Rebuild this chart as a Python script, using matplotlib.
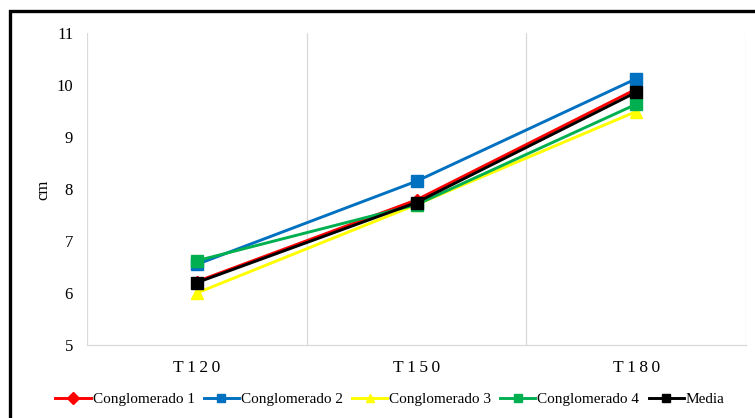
import matplotlib
matplotlib.use("Agg")
import matplotlib.pyplot as plt
from matplotlib.patches import Rectangle

# Data
categories = ["T120", "T150", "T180"]
conglomerado_1 = [6.22, 7.79, 9.92]
conglomerado_2 = [6.55, 8.15, 10.12]
conglomerado_3 = [6.00, 7.70, 9.49]
conglomerado_4 = [6.62, 7.70, 9.63]
media = [6.20, 7.74, 9.86]
series_names = ["Conglomerado 1", "Conglomerado 2", "Conglomerado 3",
                "Conglomerado 4", "Media"]
y_ticks = [5, 6, 7, 8, 9, 10, 11]

plt.rcParams["font.family"] = ["Liberation Serif", "DejaVu Serif"]

W, H = 755, 418
fig = plt.figure(figsize=(W / 100, H / 100), dpi=100)
ax = fig.add_axes([87 / W, 1 - 345 / H, (746 - 87) / W, (345 - 33) / H])

styles = [
    dict(color="#FF0000", marker="D", ms=6),
    dict(color="#0070C0", marker="s", ms=8.5),
    dict(color="#FFFF00", marker="^", ms=9),
    dict(color="#00B050", marker="s", ms=8.5),
    dict(color="#000000", marker="s", ms=8.5),
]
series = [conglomerado_1, conglomerado_2, conglomerado_3, conglomerado_4, media]
x = list(range(len(categories)))
for name, vals, st in zip(series_names, series, styles):
    ax.plot(x, vals, color=st["color"], lw=2.1, marker=st["marker"],
            ms=st["ms"], mfc=st["color"], mec=st["color"], label=name)

ax.set_xlim(-0.5, len(categories) - 0.5)
ax.set_ylim(5, 11)
ax.set_yticks(y_ticks)
ax.set_xticks(x)
# letter-spaced category labels
ax.set_xticklabels(["\u2009".join(c) for c in categories])

# vertical gridlines between categories
for b in [i + 0.5 for i in range(-1, len(categories))]:
    ax.axvline(b, color="#D9D9D9", lw=0.9, zorder=0)

for side in ["top", "right", "left"]:
    ax.spines[side].set_visible(False)
ax.spines["bottom"].set_color("#D9D9D9")
ax.spines["bottom"].set_linewidth(0.9)
ax.tick_params(axis="both", length=0, labelsize=12, colors="#000000")
ax.tick_params(axis="y", pad=10)
ax.tick_params(axis="x", pad=11)
for lbl in ax.get_xticklabels():
    lbl.set_fontsize(12.5)

fig.text(43 / W, 1 - 190 / H, "cm", rotation=90, ha="center", va="center",
         fontsize=12)

leg = fig.legend(loc="center", bbox_to_anchor=(390 / W, 1 - 399 / H), ncol=5,
                 frameon=False, fontsize=11, handlelength=2.3,
                 handletextpad=0.13, columnspacing=0.6, borderaxespad=0)
for h in leg.legend_handles:
    h.set_markersize(6)

# outer frame
fig.add_artist(Rectangle((10 / W, -0.1), 1.2, 1 - 11 / H + 0.1,
                         transform=fig.transFigure, fill=False,
                         edgecolor="black", lw=2.4))

fig.savefig("out.png", dpi=100)
